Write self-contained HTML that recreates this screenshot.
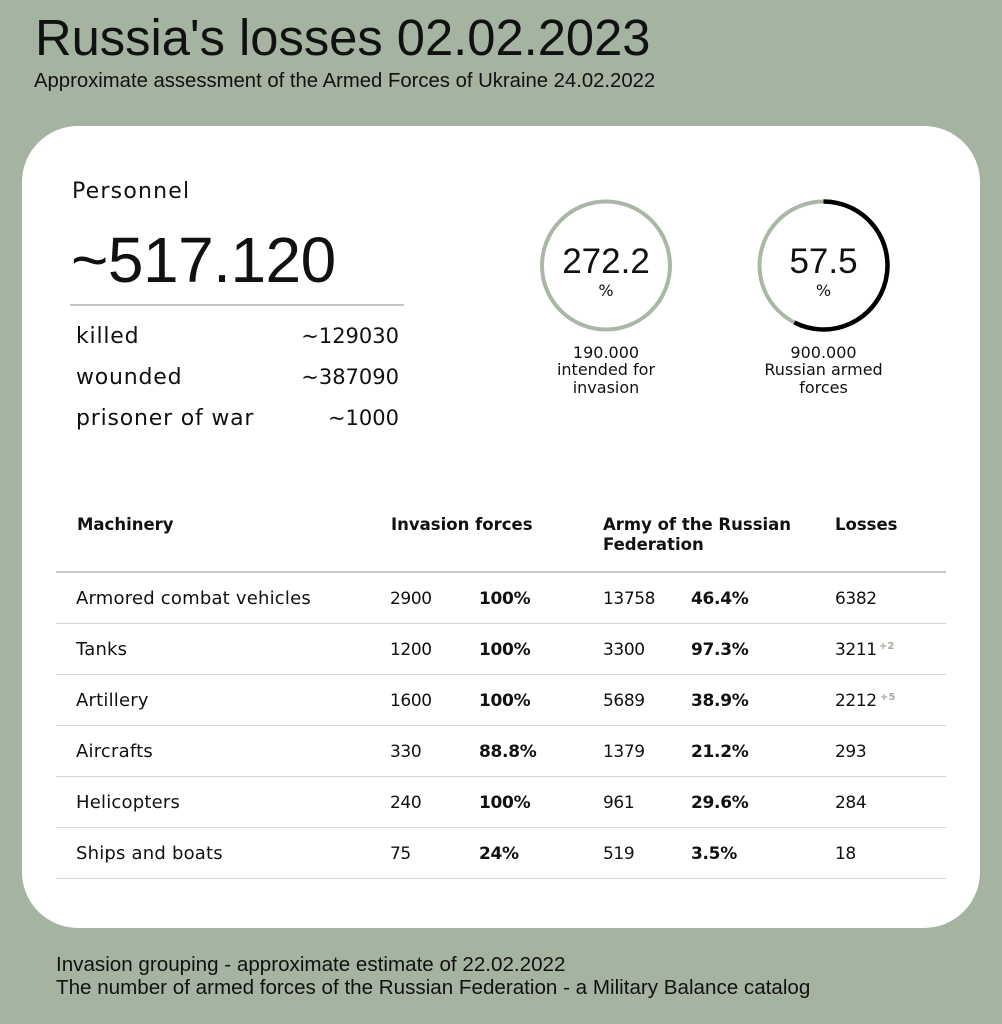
<!DOCTYPE html>
<html>
<head>
<meta charset="utf-8">
<style>
  html, body { margin:0; padding:0; }
  body { width:1002px; height:1024px; background:#a4b4a1; position:relative; overflow:hidden; color:#111; font-family:"Liberation Sans", sans-serif; }
  .abs { position:absolute; white-space:nowrap; }
  .lib { font-family:"Liberation Sans", sans-serif; }
  .dv { font-family:"DejaVu Sans", "Liberation Sans", sans-serif; }
  .card { position:absolute; left:22px; top:126px; width:958px; height:802px; background:#fff; border-radius:56px; }
  .hline { position:absolute; left:56px; width:890px; height:1.5px; background:#d2d4d0; }
  .name { font-size:18px; line-height:18px; letter-spacing:0.2px; }
  .num { font-size:17px; line-height:17px; letter-spacing:-0.4px; }
  .pct { font-size:17px; line-height:17px; font-weight:bold; letter-spacing:-0.3px; }
  .hdr { font-size:16.5px; line-height:20px; font-weight:bold; }
  .sup { font-size:10px; line-height:10px; color:#a3ada0; font-weight:bold; }
</style>
</head>
<body>
  <div class="abs lib" style="left:35px; top:12px; font-size:50.7px; line-height:51px;">Russia's losses 02.02.2023</div>
  <div class="abs lib" style="left:34px; top:71px; font-size:20.3px; line-height:20px;">Approximate assessment of the Armed Forces of Ukraine 24.02.2022</div>

  <div class="card"></div>

  <!-- Personnel -->
  <div class="abs dv" style="left:72px; top:181px; font-size:22px; line-height:22px; letter-spacing:1.2px;">Personnel</div>
  <div class="abs lib" style="left:71px; top:228px; font-size:64px; line-height:64px; letter-spacing:-0.5px;">~517.120</div>
  <div class="abs" style="left:70px; top:304px; width:334px; height:2px; background:#c3c7bf;"></div>

  <div class="abs dv" style="left:76px; top:326px; font-size:22px; line-height:22px; letter-spacing:0.8px;">killed</div>
  <div class="abs dv" style="left:76px; top:367px; font-size:22px; line-height:22px; letter-spacing:0.8px;">wounded</div>
  <div class="abs dv" style="left:76px; top:408px; font-size:22px; line-height:22px; letter-spacing:0.8px;">prisoner of war</div>
  <div class="abs dv" style="right:603px; top:326px; font-size:21px; line-height:21px;">~129030</div>
  <div class="abs dv" style="right:603px; top:367px; font-size:21px; line-height:21px;">~387090</div>
  <div class="abs dv" style="right:603px; top:408px; font-size:21px; line-height:21px;">~1000</div>

  <!-- Circles -->
  <svg class="abs" style="left:0; top:0;" width="1002" height="1024">
    <circle cx="606" cy="265.5" r="64" fill="none" stroke="#aab6a6" stroke-width="4"/>
    <circle cx="823.5" cy="265.5" r="64" fill="none" stroke="#aab6a6" stroke-width="4"/>
    <path d="M 823.5 201.5 A 64 64 0 1 1 794.4 322.5" fill="none" stroke="#000" stroke-width="4.5"/>
  </svg>
  <div class="abs lib" style="left:506px; width:200px; text-align:center; top:244px; font-size:35px; line-height:35px;">272.2</div>
  <div class="abs dv" style="left:506px; width:200px; text-align:center; top:283px; font-size:16px; line-height:16px;">%</div>
  <div class="abs lib" style="left:723.5px; width:200px; text-align:center; top:244px; font-size:35px; line-height:35px;">57.5</div>
  <div class="abs dv" style="left:723.5px; width:200px; text-align:center; top:283px; font-size:16px; line-height:16px;">%</div>

  <div class="abs dv" style="left:506px; width:200px; text-align:center; top:344px; font-size:16px; line-height:17.3px; white-space:normal;">190.000<br>intended for<br>invasion</div>
  <div class="abs dv" style="left:723.5px; width:200px; text-align:center; top:344px; font-size:16px; line-height:17.3px; white-space:normal;">900.000<br>Russian armed<br>forces</div>

  <!-- Table header -->
  <div class="abs dv hdr" style="left:77px; top:515px;">Machinery</div>
  <div class="abs dv hdr" style="left:391px; top:515px;">Invasion forces</div>
  <div class="abs dv hdr" style="left:603px; top:515px;">Army of the Russian<br>Federation</div>
  <div class="abs dv hdr" style="left:835px; top:515px;">Losses</div>

  <div class="hline" style="top:571px; height:2px; background:#c6c9c3;"></div>
  <div class="hline" style="top:622.5px;"></div>
  <div class="hline" style="top:673.5px;"></div>
  <div class="hline" style="top:724.5px;"></div>
  <div class="hline" style="top:775.5px;"></div>
  <div class="hline" style="top:826.5px;"></div>
  <div class="hline" style="top:877.5px;"></div>

  <!-- Rows -->
  <div class="abs dv name" style="left:76px; top:590px;">Armored combat vehicles</div>
  <div class="abs dv num" style="left:390px; top:591px;">2900</div>
  <div class="abs dv pct" style="left:479px; top:591px;">100%</div>
  <div class="abs dv num" style="left:603px; top:591px;">13758</div>
  <div class="abs dv pct" style="left:691px; top:591px;">46.4%</div>
  <div class="abs dv num" style="left:835px; top:591px;">6382</div>

  <div class="abs dv name" style="left:76px; top:641px;">Tanks</div>
  <div class="abs dv num" style="left:390px; top:642px;">1200</div>
  <div class="abs dv pct" style="left:479px; top:642px;">100%</div>
  <div class="abs dv num" style="left:603px; top:642px;">3300</div>
  <div class="abs dv pct" style="left:691px; top:642px;">97.3%</div>
  <div class="abs dv num" style="left:835px; top:642px;">3211</div>
  <div class="abs dv sup" style="left:879px; top:642px;">+2</div>

  <div class="abs dv name" style="left:76px; top:692px;">Artillery</div>
  <div class="abs dv num" style="left:390px; top:693px;">1600</div>
  <div class="abs dv pct" style="left:479px; top:693px;">100%</div>
  <div class="abs dv num" style="left:603px; top:693px;">5689</div>
  <div class="abs dv pct" style="left:691px; top:693px;">38.9%</div>
  <div class="abs dv num" style="left:835px; top:693px;">2212</div>
  <div class="abs dv sup" style="left:880px; top:693px;">+5</div>

  <div class="abs dv name" style="left:76px; top:743px;">Aircrafts</div>
  <div class="abs dv num" style="left:390px; top:744px;">330</div>
  <div class="abs dv pct" style="left:479px; top:744px;">88.8%</div>
  <div class="abs dv num" style="left:603px; top:744px;">1379</div>
  <div class="abs dv pct" style="left:691px; top:744px;">21.2%</div>
  <div class="abs dv num" style="left:835px; top:744px;">293</div>

  <div class="abs dv name" style="left:76px; top:794px;">Helicopters</div>
  <div class="abs dv num" style="left:390px; top:795px;">240</div>
  <div class="abs dv pct" style="left:479px; top:795px;">100%</div>
  <div class="abs dv num" style="left:603px; top:795px;">961</div>
  <div class="abs dv pct" style="left:691px; top:795px;">29.6%</div>
  <div class="abs dv num" style="left:835px; top:795px;">284</div>

  <div class="abs dv name" style="left:76px; top:845px;">Ships and boats</div>
  <div class="abs dv num" style="left:390px; top:846px;">75</div>
  <div class="abs dv pct" style="left:479px; top:846px;">24%</div>
  <div class="abs dv num" style="left:603px; top:846px;">519</div>
  <div class="abs dv pct" style="left:691px; top:846px;">3.5%</div>
  <div class="abs dv num" style="left:835px; top:846px;">18</div>

  <!-- Footer -->
  <div class="abs lib" style="left:56px; top:955px; font-size:20.6px; line-height:20px;">Invasion grouping - approximate estimate of 22.02.2022</div>
  <div class="abs lib" style="left:56px; top:978px; font-size:20.6px; line-height:20px;">The number of armed forces of the Russian Federation - a Military Balance catalog</div>
</body>
</html>
